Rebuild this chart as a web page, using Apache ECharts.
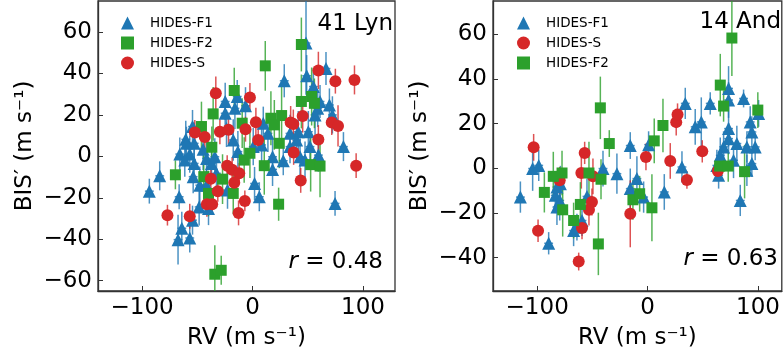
<!DOCTYPE html>
<html>
<head>
<meta charset="utf-8">
<script src="https://cdn.jsdelivr.net/npm/echarts@6/dist/echarts.min.js"></script>
<style>
  html, body { margin: 0; padding: 0; background: #fff; }
  #chart { width: 783px; height: 356px; }
</style>
</head>
<body>
<div id="chart"></div>
<script>
// each point: [RV, BIS', BIS' error]  (m/s)
const lynF1 = [
  [48.4, 54.7, 25], [28.7, 36.5, 8], [49.0, 38.9, 10], [66.5, 42.4, 8], [55.1, 33.7, 9],
  [-24.8, 26.5, 9], [-13.9, 28.9, 8], [-6.4, 24.4, 9], [-16.0, 23.2, 10], [-24.8, 20.8, 8],
  [-23.6, 13.5, 9], [-54.4, 14.4, 8], [-60.5, 8.2, 9], [-52.9, 6.3, 10], [-65.9, 1.1, 8],
  [-56.9, 1.1, 9], [-44.8, 3.4, 10], [-41.7, -1.0, 8], [-61.4, -1.8, 8], [-52.9, -3.4, 9],
  [-37.2, -3.4, 10], [-32.7, -8.2, 9], [-53.8, -9.8, 8], [-47.8, -13.9, 9], [-41.7, -13.9, 8],
  [-84.1, -9.4, 7], [-93.5, -16.8, 6], [-66.5, -19.5, 6], [-54.4, -30.8, 7], [-64.1, -34.7, 8],
  [-67.5, -40.2, 12], [-56.9, -39.4, 7], [-48.4, -24.4, 9], [-39.9, -25.2, 8], [-22.7, -16.3, 9],
  [-13.3, 2.3, 10], [1.8, -13.1, 8], [6.1, -19.5, 7], [0.6, 4.7, 9], [8.2, 5.5, 8],
  [13.9, 11.1, 9], [9.7, 16.0, 8], [18.1, -0.2, 9], [18.1, -6.3, 8], [27.8, -2.1, 7],
  [33.9, 11.1, 9], [41.4, 11.9, 10], [33.9, 4.7, 8], [43.0, -0.2, 9], [50.5, 11.9, 10],
  [52.0, 4.7, 9], [56.6, 20.0, 10], [59.0, 23.2, 9], [61.1, 26.5, 8], [69.6, 24.8, 8],
  [72.3, 20.0, 9], [82.3, 4.7, 7], [74.7, -22.7, 6], [47.5, -1.8, 9], [59.6, 0.6, 8],
  [39.9, 7.9, 9], [-17.5, 7.9, 10], [-34.2, -0.2, 9], [-59.9, 6.3, 8]
];
const lynF2 = [
  [44.2, 54.0, 13], [11.5, 43.7, 12], [-16.6, 31.8, 11], [-35.7, 20.5, 13], [-46.3, 14.4, 12],
  [-36.9, 4.4, 10], [-44.2, -9.8, 12], [-39.9, -17.9, 11], [-27.2, -11.0, 12], [-17.5, -17.9, 10],
  [-9.4, 16.0, 12], [-7.6, -1.8, 11], [-2.4, 1.5, 12], [10.6, -4.5, 14], [16.6, 18.4, 13],
  [19.7, 15.2, 12], [26.3, 19.7, 14], [24.2, 6.3, 12], [44.2, 26.5, 13], [53.5, 28.9, 14],
  [56.0, 25.6, 12], [52.6, -4.0, 13], [61.1, -4.7, 15], [23.6, -23.1, 8], [-69.9, -8.9, 7],
  [-34.2, -56.9, 14], [-28.4, -55.0, 7]
];
const lynS = [
  [-33.3, 30.5, 8], [-2.4, 28.4, 7], [-52.3, 11.5, 6], [-43.3, 9.4, 7], [-29.6, 11.9, 6],
  [-21.8, 12.9, 7], [-6.4, 13.1, 6], [3.0, 16.5, 7], [5.1, 7.9, 6], [-23.0, -4.5, 5],
  [-18.5, -6.5, 6], [-12.1, -8.2, 5], [-16.6, -12.7, 6], [-37.8, -10.8, 6], [-31.5, -16.9, 5],
  [-41.4, -23.1, 6], [-36.6, -23.1, 5], [-7.0, -21.5, 5], [-12.7, -27.3, 6], [-77.1, -28.4, 5],
  [-56.9, -28.9, 6], [34.5, 16.3, 8], [36.9, 15.6, 7], [45.4, 19.5, 8], [59.6, 41.5, 9],
  [75.0, 36.3, 6], [92.3, 36.9, 7], [71.7, 16.3, 6], [77.4, 14.7, 10], [59.6, 8.1, 7],
  [37.2, 1.9, 6], [43.6, -11.6, 6], [93.8, -4.5, 6]
];
const andF1 = [
  [-115.2, -12.9, 7], [-104.1, -0.1, 10], [-98.6, 1.3, 7], [-89.6, -33.6, 5], [-83.6, -12.1, 8],
  [-79.6, -14.4, 9], [-82.1, -8.4, 7], [-79.0, -6.9, 8], [-82.1, -17.4, 8], [-67.0, -27.9, 7],
  [-64.0, -26.4, 6], [-59.4, -23.4, 7], [-54.9, -12.6, 8], [-40.4, -0.1, 8], [-27.8, -2.4, 9],
  [-15.7, -9.1, 9], [-9.7, -4.6, 10], [-15.7, 10.2, 6], [0.9, 10.6, 6], [-3.6, -12.9, 7],
  [15.1, -10.6, 8], [31.1, 0.6, 7], [34.1, 29.1, 7], [43.1, 18.6, 8], [48.6, 20.8, 11],
  [56.7, 29.1, 5], [73.3, 35.8, 10], [73.3, 30.6, 8], [73.3, 17.8, 8], [73.3, 13.3, 7],
  [86.9, 31.3, 4], [92.9, 20.8, 7], [94.4, 16.3, 7], [97.4, 9.6, 6], [89.9, 9.6, 7],
  [80.8, 11.1, 8], [77.8, 3.6, 8], [68.8, 9.6, 7], [65.8, 5.8, 8], [62.7, 1.3, 7],
  [64.3, -3.1, 6], [94.4, 2.1, 6], [83.9, -14.4, 7], [100.5, 24.6, 6], [89.9, -0.9, 7]
];
const andS = [
  [-103.2, 9.4, 6], [-99.2, -28.0, 5], [-57.0, 6.9, 5], [-60.0, -2.1, 7], [-79.6, -5.4, 6],
  [-49.5, -3.6, 8], [-50.4, -15.1, 6], [-53.1, -18.6, 7], [-59.4, -26.8, 5], [-62.4, -41.8, 4],
  [-15.7, -20.4, 15], [-1.5, 5.1, 6], [20.5, 3.3, 8], [25.9, 20.7, 6], [27.1, 24.1, 5],
  [35.6, -5.2, 4], [49.5, 7.6, 5], [63.6, -1.2, 4]
];
const andF2 = [
  [-42.8, 27.1, 14], [-34.7, 11.1, 6], [-42.2, -4.9, 9], [-77.5, -2.1, 10], [-85.4, -3.6, 11],
  [-93.5, -10.8, 9], [-76.9, -18.6, 12], [-67.0, -23.4, 8], [-60.9, -16.2, 10], [-53.1, -2.1, 14],
  [-44.6, -33.9, 14], [-13.3, -14.1, 9], [-7.2, -11.4, 8], [3.9, -17.7, 15], [6.0, 12.3, 10],
  [13.9, 19.2, 12], [76.3, 58.4, 17], [65.8, 37.3, 14], [68.8, 27.9, 7], [65.2, 1.0, 6],
  [73.0, 1.0, 7], [87.8, -1.5, 12], [99.8, 26.1, 8]
];
const rvErr = 4;

const xTicks = [-100, 0, 100];
const lynYTicks = [-60, -40, -20, 0, 20, 40, 60];
const andYTicks = [-40, -20, 0, 20, 40, 60];
const lynLegend = ['HIDES-F1', 'HIDES-F2', 'HIDES-S'];
const andLegend = ['HIDES-F1', 'HIDES-S', 'HIDES-F2'];
const lynR = '0.48';
const andR = '0.63';

const FONT = 'DejaVu Sans';
const AX = '#333';
const BLUE = '#1f77b4', GREEN = '#2ca02c', RED = '#d62728';

const chart = echarts.init(document.getElementById('chart'));
const minus = v => String(v).replace('-', '\u2212');

function xAxis(gi, min, max) {
  return {
    gridIndex: gi, type: 'value', min: min, max: max,
    name: 'RV (m s\u207B\u00B9)', nameLocation: 'middle', nameGap: 36,
    nameTextStyle: { fontSize: 23, color: '#000', fontFamily: FONT },
    axisLine: { onZero: false, lineStyle: { color: AX, width: 1.3 } },
    axisTick: { inside: true, length: 5, customValues: xTicks, lineStyle: { color: AX } },
    axisLabel: { customValues: xTicks, fontSize: 23, color: '#000', fontFamily: FONT, margin: 6, formatter: minus },
    splitLine: { show: false }
  };
}
function yAxis(gi, min, max, ticks) {
  return {
    gridIndex: gi, type: 'value', min: min, max: max,
    name: 'BIS\u2032 (m s\u207B\u00B9)', nameLocation: 'middle', nameGap: 61,
    nameTextStyle: { fontSize: 23, color: '#000', fontFamily: FONT },
    axisLine: { onZero: false, lineStyle: { color: AX, width: 1.3 } },
    axisTick: { inside: true, length: 5, customValues: ticks, lineStyle: { color: AX } },
    axisLabel: { customValues: ticks, fontSize: 23, color: '#000', fontFamily: FONT, margin: 6, formatter: minus },
    splitLine: { show: false }
  };
}

function errBars(data, color, gi) {
  return {
    type: 'custom', name: 'err', xAxisIndex: gi, yAxisIndex: gi, data: data,
    encode: { x: 0, y: 1 }, clip: true, silent: true,
    renderItem: function (params, api) {
      const x = api.value(0), y = api.value(1), e = api.value(2);
      const t = api.coord([x, y + e]), b = api.coord([x, y - e]);
      const l = api.coord([x - rvErr, y]), r = api.coord([x + rvErr, y]);
      const st = { stroke: color, lineWidth: 1.5, opacity: 0.8 };
      return {
        type: 'group', children: [
          { type: 'line', shape: { x1: t[0], y1: t[1], x2: b[0], y2: b[1] }, style: st },
          { type: 'line', shape: { x1: l[0], y1: l[1], x2: r[0], y2: r[1] }, style: st }
        ]
      };
    }
  };
}
const markers = {
  'HIDES-F1': { symbol: 'triangle', size: 13, color: BLUE },
  'HIDES-F2': { symbol: 'rect', size: 11, color: GREEN },
  'HIDES-S': { symbol: 'circle', size: 12, color: RED }
};
function points(name, data, gi) {
  const m = markers[name];
  return {
    type: 'scatter', name: name, xAxisIndex: gi, yAxisIndex: gi, data: data,
    encode: { x: 0, y: 1 }, symbol: m.symbol, symbolSize: m.size,
    itemStyle: { color: m.color, opacity: 1 }, silent: true
  };
}

const series = [];
[['HIDES-F1', lynF1], ['HIDES-F2', lynF2], ['HIDES-S', lynS]].forEach(function (d) {
  series.push(errBars(d[1], markers[d[0]].color, 0), points(d[0], d[1], 0));
});
[['HIDES-F1', andF1], ['HIDES-S', andS], ['HIDES-F2', andF2]].forEach(function (d) {
  series.push(errBars(d[1], markers[d[0]].color, 1), points(d[0], d[1], 1));
});

function legend(left, names) {
  return {
    data: names, orient: 'vertical', left: left, top: 11, itemGap: 6,
    itemWidth: 13, itemHeight: 13, selectedMode: false,
    textStyle: { fontSize: 13.5, color: '#000', fontFamily: FONT, padding: [0, 0, 0, 11] }
  };
}
function label(x, y, text, size) {
  return {
    type: 'text', x: x, y: y, z: 100,
    style: {
      text: text, fill: '#000', fontSize: size, fontFamily: FONT,
      align: 'right', verticalAlign: 'middle',
      rich: { i: { fontStyle: 'italic', fontSize: size, fontFamily: FONT, fill: '#000' } }
    }
  };
}

chart.setOption({
  animation: false,
  grid: [
    { left: 98, right: 388, top: 1, bottom: 65, show: true, borderColor: AX, borderWidth: 1.3 },
    { left: 493, right: 1, top: 1, bottom: 65, show: true, borderColor: AX, borderWidth: 1.3 }
  ],
  xAxis: [xAxis(0, -140, 129), xAxis(1, -140, 121.5)],
  yAxis: [yAxis(0, -65, 75, lynYTicks), yAxis(1, -55, 75, andYTicks)],
  legend: [legend(116, lynLegend), legend(512, andLegend)],
  series: series,
  graphic: [
    label(393, 24, '41 Lyn', 23),
    label(383, 262, '{i|r} = ' + lynR, 23),
    label(781, 22, '14 And', 23),
    label(778, 259, '{i|r} = ' + andR, 23)
  ]
});
</script>
</body>
</html>
